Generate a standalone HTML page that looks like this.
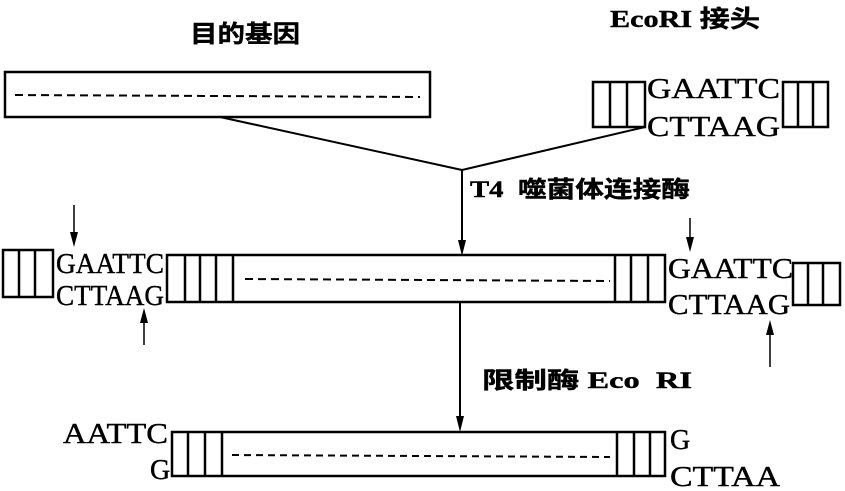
<!DOCTYPE html>
<html><head><meta charset="utf-8"><style>
body{margin:0;background:#fff}
svg{display:block}
text{font-family:"Liberation Serif","Noto Serif CJK SC",serif;fill:#000}
.c{font-family:"Liberation Serif","Noto Sans CJK SC",sans-serif;font-weight:bold}
</style></head><body>
<svg width="845" height="491" viewBox="0 0 845 491" xmlns="http://www.w3.org/2000/svg">
<g stroke="#000" stroke-width="2.5" fill="none">
<rect x="5" y="72" width="425" height="45"/>
<line x1="15" y1="95" x2="420" y2="97" stroke-dasharray="8,5" stroke-width="2"/>
<rect x="593" y="82" width="52" height="45"/>
<line x1="610" y1="82" x2="610" y2="127"/><line x1="627" y1="82" x2="627" y2="127"/>
<rect x="783" y="82" width="45" height="45"/>
<line x1="798" y1="82" x2="798" y2="127"/><line x1="813" y1="82" x2="813" y2="127"/>
<line x1="220" y1="117" x2="462" y2="170" stroke-width="2"/>
<line x1="645" y1="127" x2="462" y2="170" stroke-width="2"/>
<line x1="462" y1="170" x2="462" y2="245" stroke-width="2"/>
<rect x="3" y="250" width="50" height="47"/>
<line x1="19" y1="250" x2="19" y2="297"/><line x1="35" y1="250" x2="35" y2="297"/>
<rect x="167" y="255" width="498" height="47"/>
<line x1="185" y1="255" x2="185" y2="302"/><line x1="200" y1="255" x2="200" y2="302"/><line x1="216" y1="255" x2="216" y2="302"/><line x1="233" y1="255" x2="233" y2="302"/>
<line x1="615" y1="255" x2="615" y2="302"/><line x1="631" y1="255" x2="631" y2="302"/><line x1="648" y1="255" x2="648" y2="302"/>
<line x1="245" y1="279" x2="610" y2="281" stroke-dasharray="8,5" stroke-width="2"/>
<rect x="793" y="263" width="47" height="42"/>
<line x1="808" y1="263" x2="808" y2="305"/><line x1="823" y1="263" x2="823" y2="305"/>
<line x1="74" y1="205" x2="74" y2="235" stroke-width="1.5"/>
<line x1="144" y1="345" x2="144" y2="320" stroke-width="1.5"/>
<line x1="690" y1="218" x2="690" y2="240" stroke-width="1.5"/>
<line x1="770" y1="367" x2="770" y2="332" stroke-width="1.5"/>
<line x1="460" y1="302" x2="460" y2="420" stroke-width="2"/>
<rect x="172" y="432" width="493" height="44"/>
<line x1="188" y1="432" x2="188" y2="476"/><line x1="205" y1="432" x2="205" y2="476"/><line x1="222" y1="432" x2="222" y2="476"/>
<line x1="617" y1="432" x2="617" y2="476"/><line x1="634" y1="432" x2="634" y2="476"/><line x1="650" y1="432" x2="650" y2="476"/>
<line x1="232" y1="455" x2="610" y2="457" stroke-dasharray="7,5" stroke-width="2"/>
</g>
<g fill="#000">
<polygon points="458,240 466,240 462,256"/>
<polygon points="70,232 78,232 74,247"/>
<polygon points="140,323 148,323 144,308"/>
<polygon points="686,237 694,237 690,252"/>
<polygon points="766,335 774,335 770,320"/>
<polygon points="456,416 464,416 460,432"/>
</g>
<g font-size="28" stroke="#000" stroke-width="0.4">
<text class="c" x="190" y="42" font-size="24" textLength="110" lengthAdjust="spacingAndGlyphs">目的基因</text>
<text class="c" x="610" y="27" font-size="24" textLength="150" lengthAdjust="spacingAndGlyphs">EcoRI 接头</text>
<text x="647" y="98" textLength="133" lengthAdjust="spacingAndGlyphs">GAATTC</text>
<text x="647" y="136" textLength="133" lengthAdjust="spacingAndGlyphs">CTTAAG</text>
<text class="c" x="470" y="197" font-size="23" font-weight="normal" textLength="220" lengthAdjust="spacingAndGlyphs">T4 &#160;噬菌体连接酶</text>
<text x="56" y="273" textLength="108" lengthAdjust="spacingAndGlyphs">GAATTC</text>
<text x="56" y="305" textLength="108" lengthAdjust="spacingAndGlyphs">CTTAAG</text>
<text x="668" y="278" textLength="125" lengthAdjust="spacingAndGlyphs">GAATTC</text>
<text x="668" y="314" textLength="122" lengthAdjust="spacingAndGlyphs">CTTAAG</text>
<text class="c" x="482" y="388" font-size="23" font-weight="normal" textLength="210" lengthAdjust="spacingAndGlyphs">限制酶 Eco &#160;RI</text>
<text x="63" y="443" textLength="105" lengthAdjust="spacingAndGlyphs">AATTC</text>
<text x="150" y="479">G</text>
<text x="670" y="449">G</text>
<text x="670" y="486" textLength="110" lengthAdjust="spacingAndGlyphs">CTTAA</text>
</g>
</svg>
</body></html>
